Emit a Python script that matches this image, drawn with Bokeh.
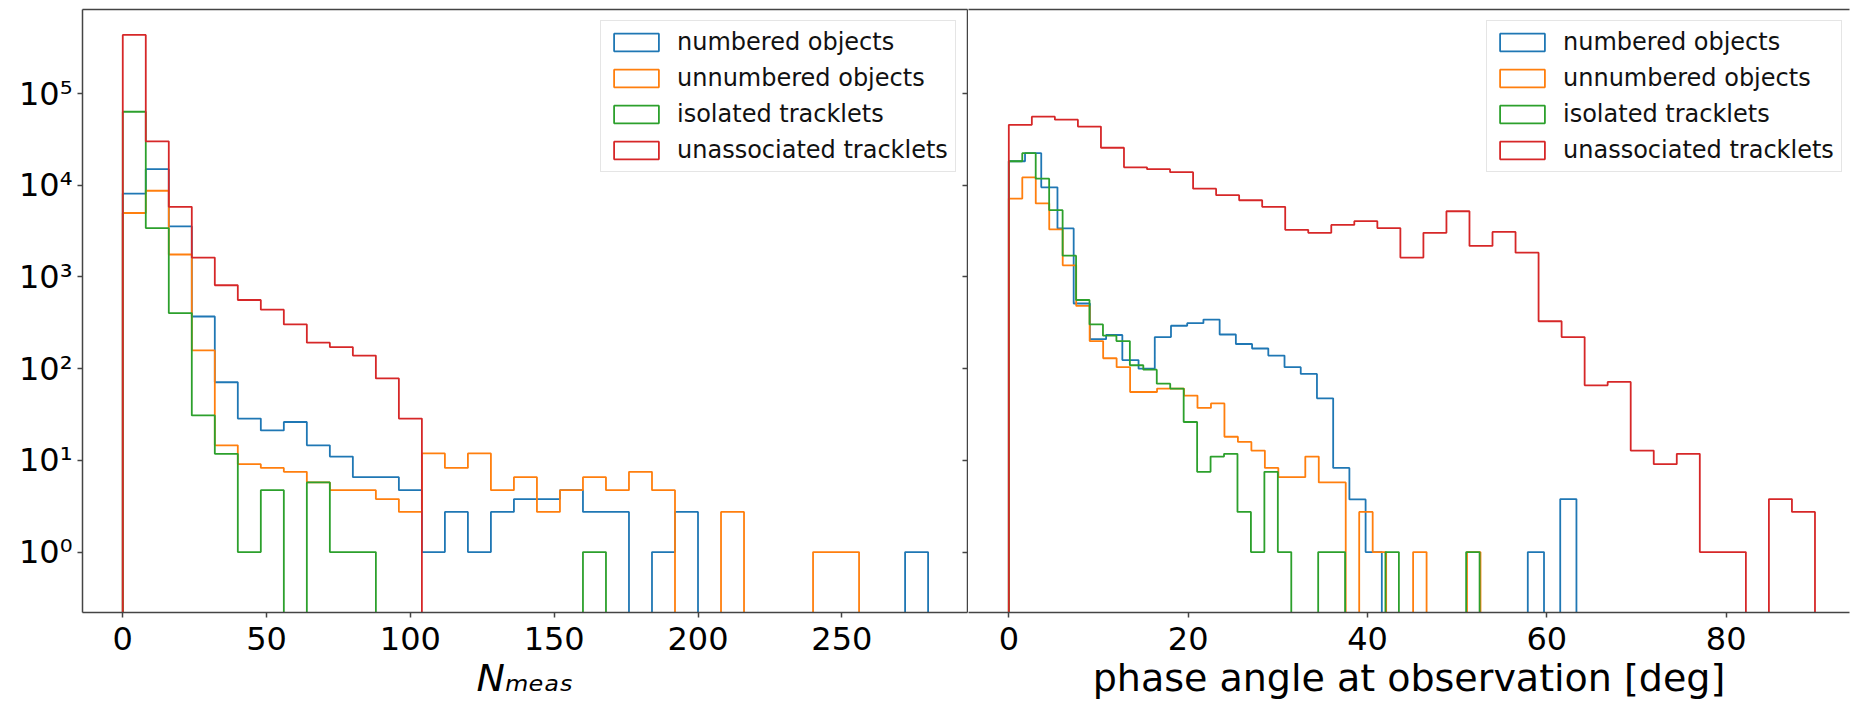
import numpy as np
from bokeh.plotting import figure
from bokeh.models import Range1d, FixedTicker, LogAxis, LinearAxis, Legend, LegendItem
from bokeh.layouts import row
from bokeh.embed import file_html
from bokeh.resources import INLINE

# ---------------- data ----------------
series_labels = ["numbered objects", "unnumbered objects", "isolated tracklets", "unassociated tracklets"]
series_colors = ["#1f77b4", "#ff7f0e", "#2ca02c", "#d62728"]

# left panel: number of measurements per object, 35 common bins of width 8 (0 .. 280)
nmeas_bin_edges = list(range(0, 281, 8))
nmeas_numbered = [8130, 15000, 3560, 371, 71.1, 28.6, 21.2, 26.2, 14.6, 11.0, 6.56, 6.56, 4.73,
                  1, 2.74, 1, 2.74, 3.78, 3.78, 4.73, 2.74, 2.74, 0, 1, 2.74,
                  0, 0, 0, 0, 0, 0, 0, 0, 0, 1]
nmeas_unnumbered = [4990, 8720, 1760, 158, 14.6, 9.1, 8.27, 7.51, 5.75, 4.73, 4.73, 3.78, 2.74,
                    11.9, 8.27, 11.9, 4.73, 6.56, 2.74, 4.73, 6.56, 4.73, 7.51, 4.73, 0,
                    0, 2.74, 0, 0, 0, 1, 1, 0, 0, 0]
nmeas_isolated = [63400, 3420, 404, 30.9, 11.8, 1, 4.73, 0, 5.75, 1, 1,
                  0, 0, 0, 0, 0, 0, 0, 0, 0, 1,
                  0, 0, 0, 0, 0, 0, 0, 0, 0, 0, 0, 0, 0, 0]
nmeas_unassociated = [437000, 30200, 5820, 1630, 813, 561, 440, 304, 192, 172, 139, 78.3, 28.6,
                      0, 0, 0, 0, 0, 0, 0, 0, 0, 0, 0, 0, 0, 0, 0, 0, 0, 0, 0, 0, 0, 0]

# right panel: phase angle [deg]; each series has 35 bins spanning its own data range
phase_max_numbered = 63.3
phase_max_unnumbered = 52.6
phase_max_isolated = 52.5
phase_max_unassociated = 89.9
phase_numbered = [18300, 22400, 9500, 3390, 514, 210, 233, 124, 100, 221, 294, 314, 343, 236,
                  186, 166, 139, 104, 87.7, 47.5, 8.27, 3.75, 1,
                  0, 0, 0, 0, 0, 0, 0, 0, 0, 1, 0, 3.78]
phase_unnumbered = [7160, 12200, 6350, 3300, 1340, 484, 200, 130, 104, 55.7, 55.7, 60.7, 60.7,
                    50.9, 37.3, 41.8, 18.1, 15.9, 12.8, 8.27, 6.56, 6.56, 11.0, 5.75, 5.75,
                    0, 2.74, 1, 0, 0, 1, 0, 0, 0, 1]
phase_isolated = [18300, 22400, 11800, 5350, 1710, 561, 304, 229, 200, 109, 97.5, 68.7, 60.7,
                  26.2, 7.51, 11.0, 11.8, 2.74, 1, 7.51, 1, 0, 0, 1, 1,
                  0, 0, 0, 1, 0, 0, 0, 0, 0, 1]
phase_unassociated = [45700, 56100, 52000, 43700, 25700, 15700, 15000, 13900, 9180, 7800, 6870,
                      5820, 3270, 3030, 3700, 4060, 3420, 1630, 3030, 5210, 2180, 3100, 1840,
                      329, 221, 65.8, 71.7, 12.8, 9.1, 11.8, 1, 1, 0, 3.78, 2.74]

y_ticks = [1, 10, 100, 1000, 10000, 100000]
y_tick_labels = ["10\u2070", "10\u00b9", "10\u00b2", "10\u00b3", "10\u2074", "10\u2075"]
nmeas_ticks = [0, 50, 100, 150, 200, 250]
phase_ticks = [0, 20, 40, 60, 80]

# ---------------- style ----------------
FONT = "DejaVu Sans"
SPINE = "#444444"
H = 702
FLOOR = 1e-3   # empty bins are drawn down below the axis, as a log histogram does

y_range = Range1d(0.2192, 8.27e5)


def step_outline(edges, counts):
    e = np.asarray(edges, dtype=float)
    c = np.asarray(counts, dtype=float)
    c = np.where(c > 0, c, FLOOR)
    xs = np.repeat(e, 2)
    ys = np.concatenate([[FLOOR], np.repeat(c, 2), [FLOOR]])
    return xs, ys


def style_axis(ax):
    ax.axis_line_color = SPINE
    ax.axis_line_width = 1.5
    ax.major_tick_line_color = SPINE
    ax.major_tick_line_width = 1.5
    ax.major_tick_out = 5
    ax.major_tick_in = 0
    ax.minor_tick_line_color = None
    ax.major_label_text_font = FONT
    ax.major_label_text_font_size = "32px"
    ax.major_label_text_color = "black"


def make_panel(width, border_left, border_right, x_range, x_ticks, x_label, italic, hists,
               left_axis):
    p = figure(width=width, height=H, x_range=x_range, y_range=y_range, y_axis_type="log",
               y_axis_location="left" if left_axis else None,
               output_backend="svg", toolbar_location=None,
               min_border_left=border_left, min_border_right=border_right,
               min_border_top=9, min_border_bottom=H - 615)
    p.outline_line_color = None
    p.background_fill_color = "white"
    p.border_fill_color = "white"
    p.xgrid.visible = False
    p.ygrid.visible = False

    xa = p.xaxis[0]
    style_axis(xa)
    xa.ticker = FixedTicker(ticks=x_ticks)
    xa.major_label_standoff = 9
    xa.axis_label = x_label
    xa.axis_label_text_font = FONT
    xa.axis_label_text_font_size = "38px"
    xa.axis_label_text_font_style = "italic" if italic else "normal"
    xa.axis_label_text_color = "black"
    xa.axis_label_standoff = 3

    if left_axis:
        ya = p.yaxis[0]
        style_axis(ya)
        ya.ticker = FixedTicker(ticks=y_ticks)
        ya.major_label_overrides = {t: s for t, s in zip(y_ticks, y_tick_labels)}
        ya.major_label_standoff = 5
        # ticks of the neighbouring (shared-y) panel sit on this panel's right spine
        ra = LogAxis(ticker=FixedTicker(ticks=y_ticks))
        style_axis(ra)
        ra.major_tick_out = 0
        ra.major_tick_in = 5
        ra.major_label_standoff = 0
        ra.major_label_overrides = {t: "" for t in y_ticks}
        p.add_layout(ra, "right")

    top = LinearAxis(ticker=FixedTicker(ticks=[]))
    top.axis_line_color = SPINE
    top.axis_line_width = 1.5
    top.major_tick_line_color = None
    top.minor_tick_line_color = None
    top.major_label_standoff = 0
    p.add_layout(top, "above")

    items = []
    for (edges, counts), lab, col in zip(hists, series_labels, series_colors):
        xs, ys = step_outline(edges, counts)
        r = p.patch(x=xs, y=ys, fill_color=None, line_color=col, line_width=1.8)
        items.append(LegendItem(label=lab, renderers=[r]))

    leg = Legend(items=items, location=(518, 440))
    leg.margin = 0
    leg.padding = 7
    leg.spacing = 8
    leg.glyph_width = 56
    leg.glyph_height = 22
    leg.label_standoff = 13
    leg.label_text_font = FONT
    leg.label_text_font_size = "24px"
    leg.label_text_color = "#111111"
    leg.border_line_color = "#cccccc"
    leg.border_line_width = 1
    leg.background_fill_color = "white"
    leg.background_fill_alpha = 0.8
    p.add_layout(leg)
    return p


left_hists = [(nmeas_bin_edges, nmeas_numbered), (nmeas_bin_edges, nmeas_unnumbered),
              (nmeas_bin_edges, nmeas_isolated), (nmeas_bin_edges, nmeas_unassociated)]
right_hists = [(np.linspace(0, phase_max_numbered, 36), phase_numbered),
               (np.linspace(0, phase_max_unnumbered, 36), phase_unnumbered),
               (np.linspace(0, phase_max_isolated, 36), phase_isolated),
               (np.linspace(0, phase_max_unassociated, 36), phase_unassociated)]

p1 = make_panel(968, 82, 1, Range1d(-14, 293.7), nmeas_ticks,
                "N\u2098\u2091\u2090\u209b", True, left_hists, True)
p2 = make_panel(883, 0, 2, Range1d(-4.495, 93.75), phase_ticks,
                "phase angle at observation [deg]", False, right_hists, False)

layout = row(p1, p2)
open("out.html", "w").write(file_html(layout, INLINE, title="histograms"))
